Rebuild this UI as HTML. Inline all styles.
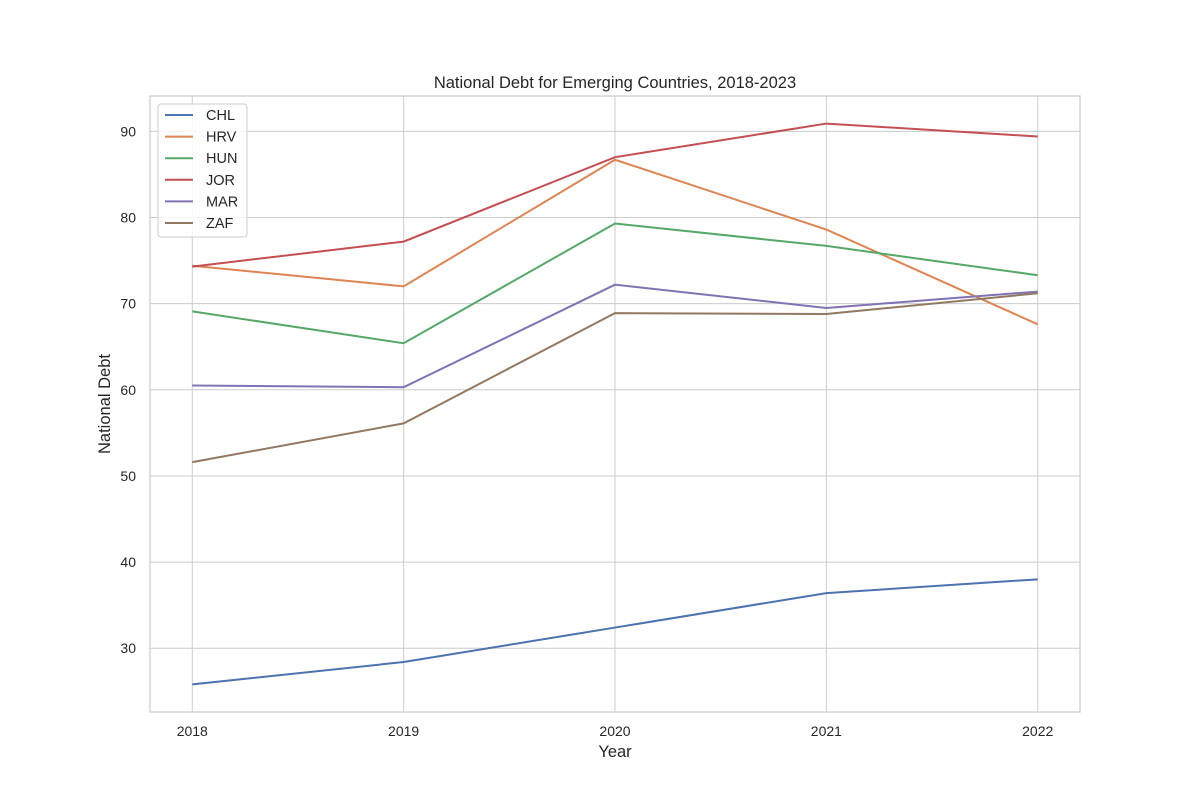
<!DOCTYPE html>
<html><head><meta charset="utf-8">
<style>
html,body{margin:0;padding:0;background:#fff;}
svg{display:block;font-family:"Liberation Sans","DejaVu Sans",sans-serif;}
</style></head>
<body>
<svg id="chart" width="1200" height="800" xmlns="http://www.w3.org/2000/svg"></svg>
<script>
const years = [2018, 2019, 2020, 2021, 2022];
const seriesNames = ["CHL", "HRV", "HUN", "JOR", "MAR", "ZAF"];
const chlValues = [25.8, 28.4, 32.4, 36.4, 38.0];
const hrvValues = [74.4, 72.0, 86.7, 78.6, 67.6];
const hunValues = [69.1, 65.4, 79.3, 76.7, 73.3];
const jorValues = [74.3, 77.2, 87.0, 90.9, 89.4];
const marValues = [60.5, 60.3, 72.2, 69.5, 71.4];
const zafValues = [51.6, 56.1, 68.9, 68.8, 71.2];
const yTicks = [30, 40, 50, 60, 70, 80, 90];

const seriesValues = [chlValues, hrvValues, hunValues, jorValues, marValues, zafValues];
const colors = ["#4c72b0", "#dd8452", "#55a868", "#c44e52", "#8172b3", "#937860"];
const L = 150, R = 1080, T = 96, B = 712;
const xMin = 2017.8, xMax = 2022.2, yMin = 22.6, yMax = 94.1;
const xs = v => L + (v - xMin) / (xMax - xMin) * (R - L);
const ys = v => B - (v - yMin) / (yMax - yMin) * (B - T);
const svg = document.getElementById('chart');
const NS = "http://www.w3.org/2000/svg";
function mk(tag, attrs, text) {
  const e = document.createElementNS(NS, tag);
  for (const k in attrs) e.setAttribute(k, attrs[k]);
  if (text !== undefined) e.textContent = text;
  svg.appendChild(e);
  return e;
}
yTicks.forEach(t => {
  const g = mk('line', {x1: L, x2: R, y1: ys(t), y2: ys(t), stroke: '#cccccc', 'stroke-width': 1});
  
  
  const lb = mk('text', {x: 136, y: ys(t) + 5, 'text-anchor': 'end', 'font-size': 14, fill: '#262626'}, t);
  
  
});
years.forEach(y => {
  const g = mk('line', {x1: xs(y), x2: xs(y), y1: T, y2: B, stroke: '#cccccc', 'stroke-width': 1});
  
  
  const lb = mk('text', {x: xs(y), y: 736, 'text-anchor': 'middle', 'font-size': 14, fill: '#262626'}, y);
  
  
});
const frame = mk('rect', {x: L, y: T, width: R - L, height: B - T, fill: 'none', stroke: '#cccccc', 'stroke-width': 1.25});


seriesValues.forEach((vals, i) => {
  const p = mk('polyline', {points: vals.map((v, j) => xs(years[j]) + ',' + ys(v)).join(' '), fill: 'none', stroke: colors[i], 'stroke-width': 2});
  
  
});
const title = mk('text', {x: 615, y: 88, 'text-anchor': 'middle', 'font-size': 16.5, fill: '#262626'}, 'National Debt for Emerging Countries, 2018-2023');


const xt = mk('text', {x: 615, y: 757, 'text-anchor': 'middle', 'font-size': 16.5, fill: '#262626'}, 'Year');


const yt = mk('text', {x: 110, y: 404, 'text-anchor': 'middle', 'font-size': 16.5, fill: '#262626', transform: 'rotate(-90 110 404)'}, 'National Debt');


const lg = mk('rect', {x: 158, y: 104, width: 89, height: 133, rx: 3, fill: '#ffffff', 'fill-opacity': 0.8, stroke: '#cccccc', 'stroke-width': 1});


seriesNames.forEach((n, i) => {
  const yy = 115 + i * 21.6;
  const ln = mk('line', {x1: 165, x2: 193, y1: yy, y2: yy, stroke: colors[i], 'stroke-width': 2});
  
  
  const tx = mk('text', {x: 206, y: yy + 5, 'font-size': 14.5, fill: '#262626'}, n);
  
  
});
</script>
</body></html>
